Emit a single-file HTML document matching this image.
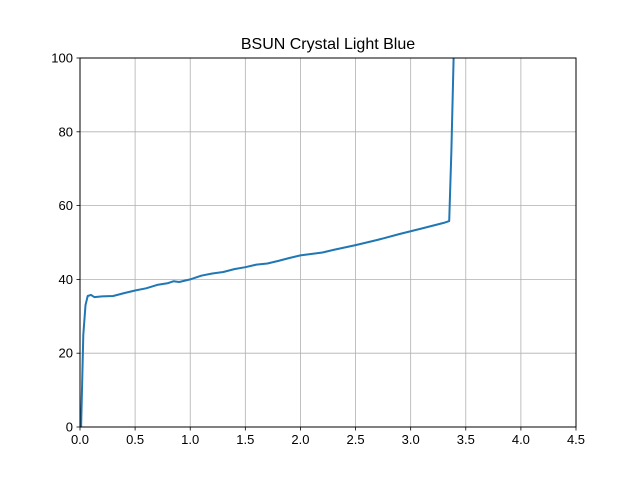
<!DOCTYPE html>
<html><head><meta charset="utf-8"><style>body{margin:0;background:#fff}svg{display:block}text{font-family:"Liberation Sans","DejaVu Sans",sans-serif;fill:#000}</style></head>
<body>
<svg id="chart" width="640" height="480">
<rect width="640" height="480" fill="#fff"/>
<text x="328" y="49" font-size="16" text-anchor="middle">BSUN Crystal Light Blue</text>
<g id="grid"></g>
<defs><clipPath id="clip"><rect x="80" y="58" width="496" height="369"/></clipPath></defs>
<g id="series" clip-path="url(#clip)"></g>
<rect x="80" y="58" width="496" height="369" fill="none" stroke="#000" stroke-width="1"/>
<g id="axes"></g>
</svg>
<script>
const xTicks=[0,0.5,1,1.5,2,2.5,3,3.5,4,4.5];
const xTickLabels=["0.0","0.5","1.0","1.5","2.0","2.5","3.0","3.5","4.0","4.5"];
const yTicks=[0,20,40,60,80,100];
const yTickLabels=["0","20","40","60","80","100"];
const xs=[0.01,0.03,0.05,0.07,0.1,0.13,0.2,0.3,0.4,0.5,0.6,0.7,0.8,0.85,0.9,1.0,1.1,1.2,1.3,1.4,1.5,1.6,1.7,1.8,1.9,2.0,2.2,2.3,2.5,2.7,2.9,3.1,3.3,3.35,3.37,3.39];
const ys=[0,25,33,35.5,35.8,35.2,35.4,35.5,36.3,37,37.6,38.5,39,39.5,39.3,40,41,41.6,42,42.8,43.3,44,44.3,45,45.8,46.5,47.3,48,49.3,50.7,52.3,53.8,55.3,55.8,75,101];
const NS='http://www.w3.org/2000/svg';
const L=80,R=576,T=58,B=427;
const sx=v=>L+v/4.5*(R-L), sy=v=>B-v/100*(B-T);
const grid=document.getElementById('grid'),axes=document.getElementById('axes'),series=document.getElementById('series');
function mk(tag,attrs,parent){const e=document.createElementNS(NS,tag);for(const k in attrs)e.setAttribute(k,attrs[k]);parent.appendChild(e);return e;}
xTicks.forEach((t,i)=>{const x=sx(t);
 const g=mk('line',{x1:x,x2:x,y1:T,y2:B,stroke:'#b0b0b0','stroke-width':0.8},grid);
 
 
 const tk=mk('line',{x1:x,x2:x,y1:B,y2:B+3.5,stroke:'#000','stroke-width':0.8},axes);
 
 
 const tx=mk('text',{x:x,y:B+17,'font-size':13,'text-anchor':'middle'},axes);tx.textContent=xTickLabels[i];
 
 
});
yTicks.forEach((t,i)=>{const y=sy(t);
 const g=mk('line',{x1:L,x2:R,y1:y,y2:y,stroke:'#b0b0b0','stroke-width':0.8},grid);
 
 
 const tk=mk('line',{x1:L-3.5,x2:L,y1:y,y2:y,stroke:'#000','stroke-width':0.8},axes);
 
 
 const tx=mk('text',{x:L-7,y:y+4.5,'font-size':13,'text-anchor':'end'},axes);tx.textContent=yTickLabels[i];
 
 
});
const d=xs.map((x,i)=>(i?'L':'M')+sx(x).toFixed(1)+','+sy(ys[i]).toFixed(1)).join(' ');
const p=mk('path',{d:d,fill:'none',stroke:'#1f77b4','stroke-width':2,'stroke-linejoin':'round'},series);


</script>
</body></html>
